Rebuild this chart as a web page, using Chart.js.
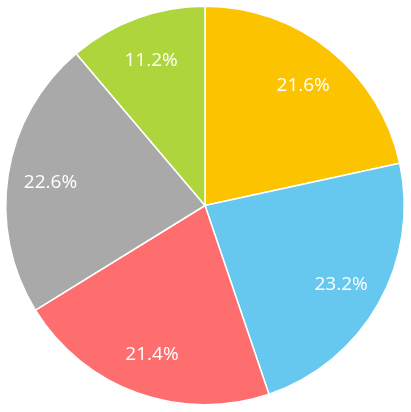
<!DOCTYPE html>
<html><head><meta charset="utf-8">
<script src="https://cdn.jsdelivr.net/npm/chart.js@4/dist/chart.umd.min.js"></script>
<style>html,body{margin:0;padding:0;background:#fff}#wrap{width:411px;height:412px}</style>
</head><body><div id="wrap"><canvas id="c"></canvas></div>
<script>
const categories = ['A', 'B', 'C', 'D', 'E'];
const values = [21.6, 23.2, 21.4, 22.6, 11.2];
const colors = ['#FCC400', '#66C7EF', '#FF6E6E', '#A9A9A9', '#AED63C'];

const labelPlugin = {
  id: 'pctLabels',
  afterDatasetsDraw(chart) {
    const ctx = chart.ctx;
    const meta = chart.getDatasetMeta(0);
    ctx.save();
    ctx.fillStyle = '#fff';
    ctx.font = '19px "Open Sans", sans-serif';
    ctx.textAlign = 'center';
    ctx.textBaseline = 'middle';
    meta.data.forEach((arc, i) => {
      const p = arc.getProps(['x','y','startAngle','endAngle','outerRadius'], true);
      const a = (p.startAngle + p.endAngle) / 2;
      const r = p.outerRadius * 0.785;
      ctx.fillText(values[i].toFixed(1) + '%', p.x + Math.cos(a) * r, p.y + Math.sin(a) * r + 2);
    });
    ctx.restore();
  }
};

new Chart(document.getElementById('c'), {
  type: 'pie',
  data: { labels: categories, datasets: [{ data: values, backgroundColor: colors, borderColor: '#fff', borderWidth: 1.5 }] },
  options: {
    responsive: true, maintainAspectRatio: false, animation: false,
    layout: { padding: { top: 5, bottom: 6, left: 5, right: 6 } },
    plugins: { legend: { display: false }, tooltip: { enabled: false } }
  },
  plugins: [labelPlugin]
});
</script></body></html>
